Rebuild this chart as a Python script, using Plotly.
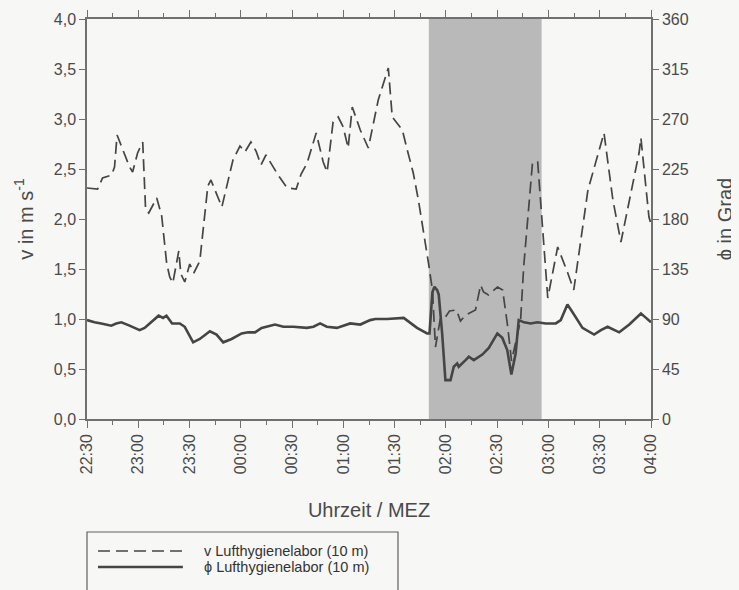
import pandas as pd
import plotly.graph_objects as go

# ---- data (minutes after 22:30) ----
v_minutes = [0.0, 6.2, 9.1, 14.4, 16.1, 17.6, 24.9, 26.7, 29.6, 32.6, 34.3, 36.1, 40.8, 43.7,
             46.6, 48.4, 50.2, 53.7, 54.9, 57.2, 60.1, 62.5, 66.0, 70.7, 72.5, 78.9, 85.4,
             89.5, 92.4, 95.9, 98.9, 101.8, 104.7, 111.8, 117.1, 122.4, 125.3, 128.8, 134.1,
             138.2, 140.5, 144.0, 147.0, 149.9, 152.8, 155.2, 159.9, 164.6, 170.4, 176.3,
             178.6, 184.5, 187.4, 190.9, 193.9, 196.8, 199.8, 202.1, 203.9, 206.8, 209.7,
             212.1, 216.2, 218.5, 221.5, 227.3, 230.3, 232.0, 234.9, 240.2, 243.2, 246.1,
             248.4, 253.7, 255.5, 260.7, 263.7, 269.6, 274.3, 275.4, 281.3, 284.8, 293.1,
             300.7, 302.5, 307.7, 312.4, 323.0, 324.1, 328.8, 330.0]
v_values = [2.31, 2.30, 2.41, 2.44, 2.52, 2.84, 2.52, 2.47, 2.66, 2.77, 2.09, 2.06, 2.21, 2.03,
            1.56, 1.42, 1.36, 1.68, 1.45, 1.37, 1.55, 1.46, 1.58, 2.33, 2.39, 2.12, 2.59,
            2.73, 2.67, 2.77, 2.68, 2.54, 2.64, 2.44, 2.31, 2.30, 2.45, 2.56, 2.86,
            2.57, 2.47, 2.97, 3.02, 2.92, 2.71, 3.12, 2.89, 2.71, 3.19, 3.51,
            3.02, 2.89, 2.69, 2.46, 2.19, 1.89, 1.56, 1.29, 0.72, 1.01, 1.02,
            1.08, 1.09, 0.98, 1.04, 1.09, 1.34, 1.27, 1.24, 1.32, 1.29, 0.93,
            0.58, 0.99, 1.52, 2.57, 2.57, 1.21, 1.62, 1.72, 1.46, 1.29, 2.29,
            2.76, 2.86, 2.19, 1.77, 2.66, 2.81, 2.02, 1.95]

phi_minutes = [0.0, 4.4, 8.3, 14.2, 17.1, 20.1, 24.9, 30.8, 33.7, 37.7, 41.9, 44.5, 46.5, 49.8,
               54.3, 57.2, 62.1, 66.0, 71.9, 75.8, 79.7, 84.6, 90.5, 94.3, 98.3, 102.2, 110.0,
               114.9, 120.7, 128.6, 132.5, 136.4, 140.3, 146.2, 154.0, 159.9, 165.7, 168.7,
               175.5, 185.3, 193.1, 199.0, 200.4, 202.1, 203.3, 204.9, 205.8, 207.8, 209.7,
               212.7, 214.6, 216.6, 217.5, 221.5, 223.4, 226.3, 231.3, 235.1, 240.1, 243.0,
               245.9, 248.3, 250.8, 252.6, 255.7, 259.6, 263.5, 268.4, 274.3, 277.2, 281.1,
               284.1, 289.9, 296.7, 300.7, 304.6, 311.4, 317.3, 322.2, 324.1, 327.1, 330.0]
phi_values = [89, 87, 86, 84, 86, 87, 84, 80, 82, 87, 93, 91, 93, 86,
              86, 83, 69, 72, 79, 76, 69, 72, 77, 78, 78, 82, 85,
              83, 83, 82, 83, 86, 83, 82, 86, 85, 89, 90,
              90, 91, 82, 77, 77, 114, 119, 116, 112, 77, 35,
              35, 47, 50, 47, 53, 56, 53, 58, 64, 77, 73,
              62, 40, 59, 89, 87, 86, 87, 86, 86, 89, 103,
              96, 82, 76, 80, 83, 78, 85, 92, 95, 91, 87]

shade_start_min = 200
shade_end_min = 266

v_name = "v Lufthygienelabor (10 m)"
phi_name = "ϕ Lufthygienelabor (10 m)"

base = pd.Timestamp("2000-01-01 22:30")
v_t = base + pd.to_timedelta(v_minutes, unit="m")
phi_t = base + pd.to_timedelta(phi_minutes, unit="m")

ink = "#454545"
txt = "#4a4a4a"
axc = "#707070"
bg = "#f7f7f5"
font = "Liberation Sans, Arial, sans-serif"
dash_v = "12px,6px"

fig = go.Figure()
fig.add_trace(go.Scatter(x=v_t, y=v_values, mode="lines", name=v_name, showlegend=False,
                         line=dict(color=ink, width=1.7, dash=dash_v)))
fig.add_trace(go.Scatter(x=phi_t, y=phi_values, mode="lines", name=phi_name, yaxis="y2",
                         showlegend=False, line=dict(color=ink, width=2.6)))

fig.add_shape(type="rect", xref="x", yref="paper",
              x0=base + pd.Timedelta(minutes=shade_start_min),
              x1=base + pd.Timedelta(minutes=shade_end_min),
              y0=0, y1=1, fillcolor="#b9b9b9", line_width=0, layer="below")

# legend (drawn below the plot)
fig.add_shape(type="rect", xref="paper", yref="paper", x0=0.0, x1=0.5514,
              y0=-0.2825, y1=-0.50, line=dict(color="#606060", width=1.2),
              fillcolor="rgba(0,0,0,0)")
leg_y = [-0.330, -0.370]
fig.add_shape(type="line", xref="paper", yref="paper", x0=0.0195, x1=0.170,
              y0=leg_y[0], y1=leg_y[0], line=dict(color=ink, width=1.5, dash=dash_v))
fig.add_shape(type="line", xref="paper", yref="paper", x0=0.0195, x1=0.170,
              y0=leg_y[1], y1=leg_y[1], line=dict(color=ink, width=2.6))
for name, yy in [(v_name, leg_y[0]), (phi_name, leg_y[1])]:
    fig.add_annotation(text=name, xref="paper", yref="paper", x=0.2057, y=yy,
                       xanchor="left", yanchor="middle", showarrow=False,
                       font=dict(size=14.5, color="#333333"), borderpad=0)

fig.update_layout(
    width=731, height=582,
    margin=dict(l=79, r=88, t=11, b=171),
    paper_bgcolor=bg, plot_bgcolor=bg,
    separators=",.",
    font=dict(family=font, color=txt, size=15),
    showlegend=False,
    xaxis=dict(
        type="date", automargin=False,
        range=[base, base + pd.Timedelta(minutes=330)],
        tickformat="%H:%M", dtick=1800000, tick0=base,
        tickangle=-90, ticks="outside", ticklen=7, tickwidth=1.2, tickcolor=axc,
        showline=True, linecolor=axc, linewidth=1.5, mirror="ticks",
        showgrid=False, zeroline=False,
        minor=dict(dtick=900000, ticks="outside", ticklen=4, tickcolor=axc, tickwidth=1.2,
                   showgrid=False),
        tickfont=dict(size=16),
        title=dict(text="Uhrzeit / MEZ", font=dict(size=20), standoff=30),
    ),
    yaxis=dict(
        automargin=False,
        range=[0, 4], dtick=0.5, tickformat=".1f",
        ticks="outside", ticklen=6, tickwidth=1.2, tickcolor=axc,
        showline=True, linecolor=axc, linewidth=1.5,
        showgrid=False, zeroline=False, tickfont=dict(size=16),
        title=dict(text="v in m s<sup>-1</sup>", font=dict(size=20), standoff=15),
    ),
    yaxis2=dict(
        automargin=False,
        range=[0, 360], dtick=45, overlaying="y", side="right",
        ticks="outside", ticklen=6, tickwidth=1.2, tickcolor=axc,
        showline=True, linecolor=axc, linewidth=1.5,
        showgrid=False, zeroline=False, tickfont=dict(size=16),
        title=dict(text="ϕ in Grad", font=dict(size=20), standoff=30),
    ),
)

fig.write_html("out.html",
               post_script="document.body.style.background='%s';" % bg)
